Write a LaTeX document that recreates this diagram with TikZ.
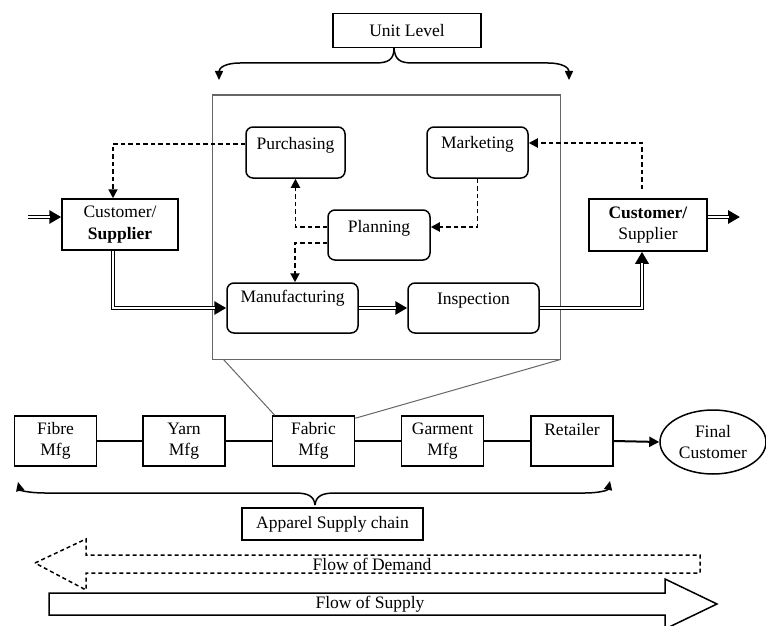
\documentclass[tikz,border=0pt]{standalone}
\usepackage{fontspec}
\setmainfont{Liberation Serif}
\usetikzlibrary{arrows.meta,shapes.geometric}
\begin{document}
\begin{tikzpicture}[x=1pt,y=-1pt,
  every node/.style={font=\fontsize{17.5}{21.5}\selectfont, inner sep=0pt},
  rbox/.style={draw, rounded corners=7pt, line width=1.5pt},
  sbox/.style={draw, line width=1.5pt, align=center},
  tt/.style={text height=12pt, text depth=#1},
  dbl/.style={line width=4.2pt, -{Triangle[length=12pt,width=13pt]},
     postaction={draw=white, line width=1.2pt, shorten >=11pt, -}},
  dsh/.style={line width=1.9pt, dash pattern=on 4.5pt off 3pt, -{Triangle[length=9pt,width=9pt]}},
  chainln/.style={line width=2pt},
  brace/.style={line width=1.5pt}]
\useasboundingbox (0,0) rectangle (766,626);

% unit level
\node[sbox, minimum width=148, minimum height=34] (unitlvl) at (407,30.5) {Unit Level};
\coordinate (topc) at (394,48);
\draw[brace, -{Triangle[length=9pt,width=8pt]}] (topc) .. controls (394,60) and (388,63) .. (375,63) -- (240,63) .. controls (225,63) and (219,68) .. (219,80);
\draw[brace, -{Triangle[length=9pt,width=8pt]}] (topc) .. controls (395,60) and (400,63) .. (413,63) -- (548,63) .. controls (563,63) and (569,68) .. (569,80);

% big unit rectangle
\node[draw=black!60, line width=1pt, minimum width=348, minimum height=264] (unit) at (386,227) {};

% inner boxes
\node[rbox, minimum width=99, minimum height=51, tt=19pt] (purch) at (295.5,152.5) {Purchasing};
\node[rbox, minimum width=101, minimum height=51, tt=20pt] (mkt) at (477.5,152.5) {Marketing};
\node[rbox, minimum width=102, minimum height=50, tt=18pt] (plan) at (379,235) {Planning};
\node[rbox, minimum width=131, minimum height=50, tt=24pt] (manu) at (292.5,308) {Manufacturing};
\node[rbox, minimum width=131, minimum height=50, tt=20pt] (insp) at (473.5,308) {Inspection};

% customer / supplier
\node[sbox, minimum width=116, minimum height=51] (lcs) at (120,224.5) {Customer/\\\textbf{Supplier}};
\node[sbox, minimum width=118, minimum height=52] (rcs) at (648,225) {\textbf{Customer/}\\Supplier};

% double connectors
\coordinate (in1) at (28,217);
\draw[dbl] (in1) -- (lcs.west |- in1);
\draw[dbl] ([xshift=-7pt]lcs.south) |- (manu.west);
\draw[dbl] (manu.east) -- (insp.west);
\draw[dbl] (insp.east) -| ([xshift=-6pt]rcs.south);
\coordinate (out1) at (740,217);
\draw[dbl] (rcs.east |- out1) -- (out1);

% dashed connectors
\draw[dsh] ([yshift=8.5pt]purch.west) -| ([xshift=-7pt]lcs.north);
\draw[dsh] ([xshift=-6pt,yshift=9pt]rcs.north) |- ([yshift=9.5pt]mkt.east);
\draw[dsh] (mkt.south) |- ([yshift=8pt]plan.east);
\draw[dsh] ([yshift=8pt]plan.west) -| (purch.south);
\draw[dsh] ([yshift=-8pt]plan.west) -| ([xshift=2.5pt]manu.north);

% supply chain
\node[sbox, minimum width=82, minimum height=50] (fibre) at (55.5,441) {Fibre\\Mfg};
\node[sbox, minimum width=82, minimum height=50] (yarn) at (184,441) {Yarn\\Mfg};
\node[sbox, minimum width=82, minimum height=50] (fabric) at (313.5,441) {Fabric\\Mfg};
\node[sbox, minimum width=82, minimum height=50] (garment) at (442.5,441) {Garment\\Mfg};
\node[sbox, minimum width=82, minimum height=50, tt=24pt] (retail) at (572,441) {Retailer};
\node[draw, ellipse, line width=1.5pt, minimum width=106, minimum height=64, align=center] (final) at (713,442) {Final\\Customer};

\draw[chainln] (fibre.east) -- (yarn.west);
\draw[chainln] (yarn.east) -- (fabric.west);
\draw[chainln] (fabric.east) -- (garment.west);
\draw[chainln] (garment.east) -- (retail.west);
\draw[chainln, -{Triangle[length=10pt,width=10pt]}] (retail.east) -- (final.west);

% zoom lines
\draw[black!60, line width=1pt] ([xshift=12pt]unit.south west) -- ([xshift=3pt]fabric.north west);
\draw[black!60, line width=1pt] (unit.south east) -- ([yshift=-3pt]fabric.north east);

% bottom brace
\coordinate (botc) at (315,505);
\draw[brace, -{Triangle[length=9pt,width=8pt]}] (botc) .. controls (314,496) and (308,493) .. (295,493) -- (45,493) .. controls (28,493) and (20,490) .. (18,482);
\draw[brace, -{Triangle[length=9pt,width=8pt]}] (botc) .. controls (316,496) and (322,493) .. (335,493) -- (585,493) .. controls (600,493) and (608,490) .. (610,481);
\node[sbox, minimum width=181, minimum height=32] (apparel) at (332.5,524) {Apparel Supply chain};

% flows
\draw[line width=1.5pt, dash pattern=on 4pt off 3pt] (35,563) -- (86,539) -- (86,555) -- (700,555) -- (700,573) -- (86,573) -- (86,590) -- cycle;
\node (demand) at (372,564) {Flow of Demand};
\draw[line width=1.5pt] (49,593) -- (665,593) -- (665,579) -- (717,604) -- (665,629) -- (665,615) -- (49,615) -- cycle;
\node (supply) at (370,604) {Flow of Supply};
\end{tikzpicture}
\end{document}
